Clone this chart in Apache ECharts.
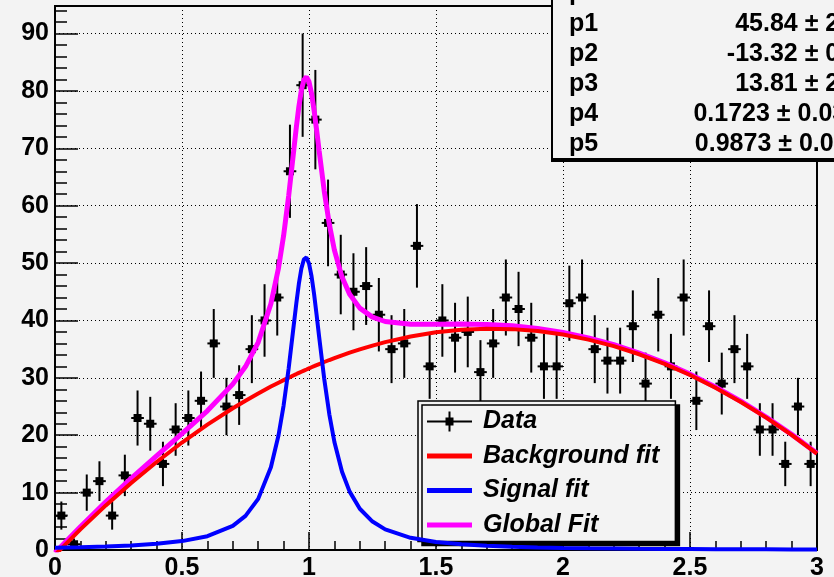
<!DOCTYPE html>
<html>
<head>
<meta charset="utf-8">
<script src="https://cdn.jsdelivr.net/npm/echarts@6/dist/echarts.min.js"></script>
<style>
  html, body { margin: 0; padding: 0; background: #f3f3f3; }
  #chart { width: 834px; height: 577px; }
</style>
</head>
<body>
<div id="chart"></div>
<script>
// histogram bins (60 bins, 0..3)
const binCenters = [0.025,0.075,0.125,0.175,0.225,0.275,0.325,0.375,0.425,0.475,
  0.525,0.575,0.625,0.675,0.725,0.775,0.825,0.875,0.925,0.975,
  1.025,1.075,1.125,1.175,1.225,1.275,1.325,1.375,1.425,1.475,
  1.525,1.575,1.625,1.675,1.725,1.775,1.825,1.875,1.925,1.975,
  2.025,2.075,2.125,2.175,2.225,2.275,2.325,2.375,2.425,2.475,
  2.525,2.575,2.625,2.675,2.725,2.775,2.825,2.875,2.925,2.975];
const counts = [6,1,10,12,6,13,23,22,15,21,
  23,26,36,25,27,35,40,44,66,81,
  75,57,48,45,46,41,35,36,53,32,
  40,37,38,31,36,44,42,37,32,32,
  43,44,35,33,33,39,29,41,32,44,
  26,39,29,35,32,21,21,15,25,15];
const countErr = [2.45,1,3.16,3.46,2.45,3.61,4.80,4.69,3.87,4.58,
  4.80,5.10,6,5,5.20,5.92,6.32,6.63,8.12,9,
  8.66,7.55,6.93,6.71,6.78,6.40,5.92,6,7.28,5.66,
  6.32,6.08,6.16,5.57,6,6.63,6.48,6.08,5.66,5.66,
  6.56,6.63,5.92,5.74,5.74,6.24,5.39,6.40,5.66,6.63,
  5.10,6.24,5.39,5.92,5.66,4.58,4.58,3.87,5,3.87];
const binHalf = 0.025;

// fit curves
const fitX = [0,0.1,0.2,0.3,0.4,0.5,0.6,0.7,0.75,0.8,0.85,0.88,0.9,
  0.92,0.94,0.95,0.96,0.97,0.98,0.99,1.0,1.01,1.02,1.03,1.04,
  1.06,1.08,1.1,1.13,1.16,1.2,1.25,1.3,1.4,1.5,
  1.6,1.7,1.8,1.9,2.0,2.1,2.2,2.3,2.4,2.5,2.6,2.7,2.8,2.9,3.0];
const bgFit = [-0.86,3.59,7.77,11.69,15.34,18.73,21.84,24.70,26.02,27.28,28.48,29.16,29.60,
  30.03,30.46,30.66,30.87,31.07,31.27,31.46,31.66,31.85,32.03,32.22,32.40,
  32.76,33.11,33.44,33.93,34.39,34.96,35.62,36.22,37.20,37.93,
  38.38,38.57,38.49,38.15,37.54,36.66,35.52,34.11,32.43,30.49,28.28,25.80,23.06,20.05,16.78];
const sigFit = [0.39,0.48,0.60,0.79,1.08,1.55,2.41,4.21,5.94,8.91,14.42,20.00,25.17,
  31.69,39.21,42.97,46.37,49.05,50.66,50.98,49.94,47.71,44.60,40.96,37.13,
  29.80,23.65,18.82,13.63,10.17,7.19,4.96,3.60,2.13,1.40,
  0.99,0.74,0.57,0.45,0.37,0.30,0.26,0.22,0.19,0.17,0.15,0.13,0.12,0.10,0.09];
const totFit = [-0.48,4.06,8.38,12.48,16.42,20.27,24.25,28.91,31.97,36.19,42.90,49.16,54.77,
  61.72,69.67,73.63,77.24,80.12,81.93,82.44,81.60,79.56,76.63,73.18,69.53,
  62.56,56.76,52.26,47.56,44.56,42.15,40.58,39.82,39.34,39.33,
  39.37,39.30,39.06,38.60,37.90,36.96,35.77,34.32,32.62,30.65,28.42,25.93,23.17,20.15,16.87];

// axis ticks
const yMinorTicks = [2,4,6,8,12,14,16,18,22,24,26,28,32,34,36,38,42,44,46,48,
  52,54,56,58,62,64,66,68,72,74,76,78,82,84,86,88,92,94];

// stats box
const parNames = ['p0','p1','p2','p3','p4','p5'];
const parValues = ['-0.8646 \u00b1 0.8817','45.84 \u00b1 2.65','-13.32 \u00b1 0.96',
  '13.81 \u00b1 2.49','0.1723 \u00b1 0.0358','0.9873 \u00b1 0.0112'];

const font = "'Liberation Sans', Arial, Helvetica, sans-serif";
const bg = '#f3f3f3';

const pair = (xs, ys) => xs.map((x, i) => [x, ys[i]]);

const chart = echarts.init(document.getElementById('chart'));

const statsGraphic = [{
  type: 'rect', z: 100,
  shape: { x: 552, y: -10, width: 400, height: 169 },
  style: { fill: bg, stroke: '#000', lineWidth: 2, shadowColor: '#000', shadowOffsetX: 0, shadowOffsetY: 2, shadowBlur: 0 }
}];
parNames.forEach((n, i) => {
  const cy = -8 + i * 30.2 + 1.5;
  statsGraphic.push({
    type: 'text', z: 101, x: 569, y: cy,
    style: { text: n, font: 'bold 25px ' + font, fill: '#000', verticalAlign: 'middle', align: 'left' }
  });
  statsGraphic.push({
    type: 'text', z: 101, x: 874, y: cy,
    style: { text: parValues[i], font: 'bold 25px ' + font, fill: '#000', verticalAlign: 'middle', align: 'right' }
  });
});

const option = {
  backgroundColor: bg,
  animation: false,
  grid: {
    left: 55, right: 17, top: 6, bottom: 27, outerBoundsMode: 'none',
    show: true, borderColor: '#000', borderWidth: 2, backgroundColor: 'transparent'
  },
  xAxis: {
    type: 'value', min: 0, max: 3, interval: 0.5,
    axisLine: { show: true, lineStyle: { color: '#000', width: 2 } },
    axisTick: { show: true, inside: true, length: 18, lineStyle: { color: '#000', width: 1.5 } },
    minorTick: { show: true, splitNumber: 5, length: 9, lineStyle: { color: '#000', width: 1.5 } },
    axisLabel: { color: '#000', fontFamily: font, fontWeight: 'bold', fontSize: 25, margin: 6 },
    splitLine: { show: true, lineStyle: { color: '#000', width: 1, type: [1, 3] } }
  },
  yAxis: [{
    type: 'value', min: 0, max: 94.8, interval: 10,
    axisLine: { show: true, lineStyle: { color: '#000', width: 2 } },
    axisTick: { show: true, inside: true, length: 23, lineStyle: { color: '#000', width: 1.5 } },
    axisLabel: { color: '#000', fontFamily: font, fontWeight: 'bold', fontSize: 25, margin: 6, showMaxLabel: false },
    splitLine: { show: true, lineStyle: { color: '#000', width: 1, type: [1, 3] } }
  }, {
    type: 'value', min: 0, max: 94.8, position: 'left',
    axisLine: { show: false },
    axisTick: { show: true, inside: true, length: 12, customValues: yMinorTicks, lineStyle: { color: '#000', width: 1.5 } },
    axisLabel: { show: false },
    splitLine: { show: false }
  }],
  legend: {
    orient: 'vertical', left: 418, top: 401,
    padding: [8, 16, 4, 9],
    itemGap: 9.5, itemWidth: 45, itemHeight: 20,
    selectedMode: false,
    backgroundColor: bg, borderColor: '#000', borderWidth: 1.5,
    shadowColor: '#000', shadowOffsetX: 4, shadowOffsetY: 4, shadowBlur: 0,
    textStyle: { fontFamily: font, fontSize: 25, fontWeight: 'bold', fontStyle: 'italic', color: '#000', padding: [0, 0, 0, 6] },
    data: [
      { name: 'Data', icon: 'path://M0,9H45V11H0Z M21.5,0H23.5V20H21.5Z M18.5,6H26.5V14H18.5Z' },
      { name: 'Background fit', icon: 'path://M0,0H45V5H0Z' },
      { name: 'Signal fit', icon: 'path://M0,0H45V5H0Z' },
      { name: 'Global Fit', icon: 'path://M0,0H45V5H0Z' }
    ]
  },
  graphic: statsGraphic,
  series: [
    {
      name: 'Data', type: 'custom', z: 2, clip: true,
      itemStyle: { color: '#000' },
      data: binCenters.map((x, i) => [x, counts[i], countErr[i]]),
      renderItem: (params, api) => {
        const x = api.value(0), y = api.value(1), e = api.value(2);
        const c = api.coord([x, y]);
        const top = api.coord([x, y + e]), bot = api.coord([x, y - e]);
        const l = api.coord([x - binHalf, y]), r = api.coord([x + binHalf, y]);
        const st = { stroke: '#000', lineWidth: 2 };
        return {
          type: 'group',
          children: [
            { type: 'line', shape: { x1: c[0], y1: top[1], x2: c[0], y2: bot[1] }, style: st },
            { type: 'line', shape: { x1: l[0], y1: c[1], x2: r[0], y2: c[1] }, style: st },
            { type: 'rect', shape: { x: c[0] - 4, y: c[1] - 4, width: 8, height: 8 }, style: { fill: '#000' } }
          ]
        };
      }
    },
    {
      name: 'Global Fit', type: 'line', z: 3, color: '#ff00ff',
      showSymbol: false, symbol: 'none',
      lineStyle: { color: '#ff00ff', width: 5 },
      data: pair(fitX, totFit)
    },
    {
      name: 'Background fit', type: 'line', z: 4, color: '#ff0000',
      showSymbol: false, symbol: 'none',
      lineStyle: { color: '#ff0000', width: 4 },
      data: pair(fitX, bgFit)
    },
    {
      name: 'Signal fit', type: 'line', z: 5, color: '#0000ff',
      showSymbol: false, symbol: 'none',
      lineStyle: { color: '#0000ff', width: 4 },
      data: pair(fitX, sigFit)
    }
  ]
};
chart.setOption(option);
</script>
</body>
</html>
